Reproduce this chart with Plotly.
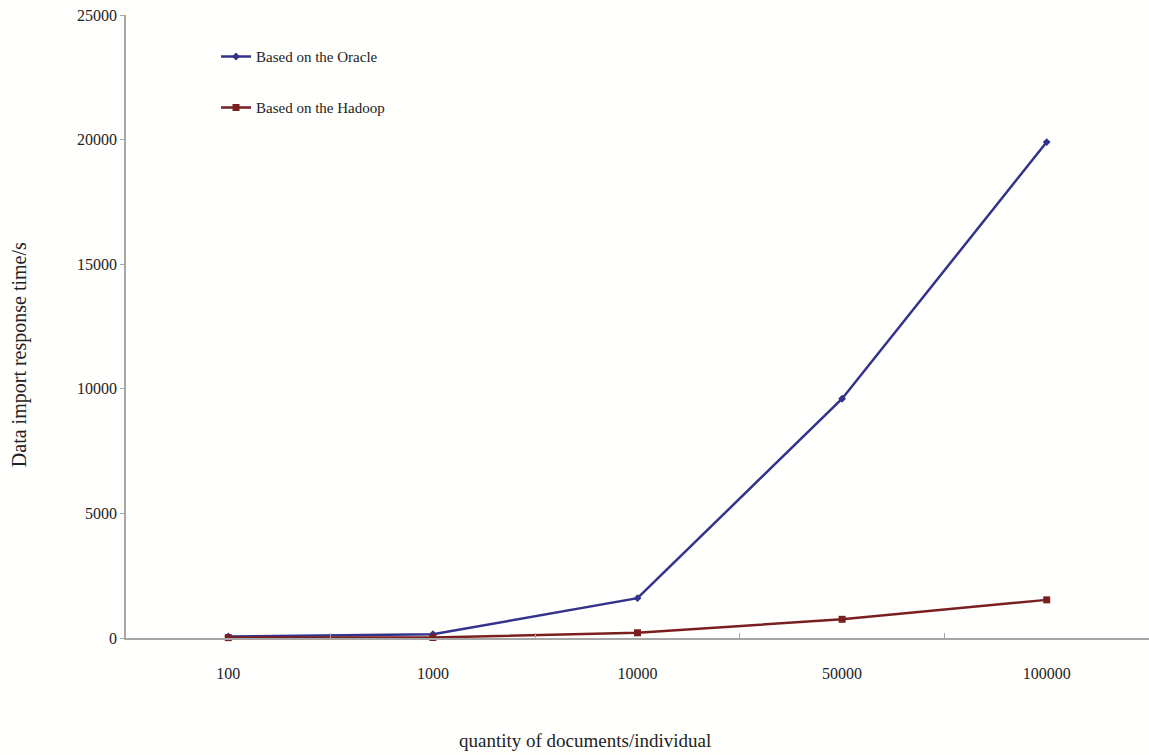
import plotly.graph_objects as go

categories = ["100", "1000", "10000", "50000", "100000"]
oracle = [60, 150, 1600, 9600, 19900]
hadoop = [15, 20, 210, 750, 1530]
y_ticks = [0, 5000, 10000, 15000, 20000, 25000]
y_tick_labels = ["0", "5000", "10000", "15000", "20000", "25000"]

FONT = "Liberation Serif"
TXT = "#222222"
AX = "#A6A6A6"

fig = go.Figure()
fig.add_trace(go.Scatter(
    x=categories, y=oracle, name="Based on the Oracle", mode="lines+markers",
    line=dict(color="#33338C", width=2.5),
    marker=dict(symbol="diamond", size=6, color="#33338C"),
    cliponaxis=False, legend="legend", showlegend=True,
))
fig.add_trace(go.Scatter(
    x=categories, y=hadoop, name="Based on the Hadoop", mode="lines+markers",
    line=dict(color="#7A1F1F", width=2.5),
    marker=dict(symbol="square", size=7, color="#7A1F1F"),
    cliponaxis=False, legend="legend2", showlegend=True,
))

fig.update_layout(
    width=1149, height=755,
    margin=dict(l=126, r=0, t=15, b=117),
    paper_bgcolor="#FFFFFD", plot_bgcolor="#FFFFFD",
    font=dict(family=FONT, color=TXT, size=16),
    showlegend=True,
    legend=dict(visible=True, x=0.088, y=0.933, xanchor="left", yanchor="middle",
                bgcolor="rgba(0,0,0,0)", font=dict(family=FONT, size=15, color=TXT),
                itemwidth=30),
    legend2=dict(visible=True, x=0.088, y=0.851, xanchor="left", yanchor="middle",
                 bgcolor="rgba(0,0,0,0)", font=dict(family=FONT, size=15, color=TXT),
                 itemwidth=30),
    xaxis=dict(
        type="category", range=[-0.5, 4.5], showline=True, linecolor=AX, linewidth=2,
        ticks="inside", tickson="boundaries", ticklen=5, tickcolor=AX, tickwidth=1,
        showgrid=False, zeroline=False, ticklabelstandoff=20,
        tickfont=dict(family=FONT, size=16, color=TXT),
    ),
    yaxis=dict(
        range=[0, 25000], tickvals=y_ticks, ticktext=y_tick_labels,
        showline=True, linecolor=AX, linewidth=1.5,
        ticks="outside", ticklen=4, tickcolor=AX, tickwidth=1,
        showgrid=False, zeroline=False,
        tickfont=dict(family=FONT, size=16, color=TXT),
    ),
    annotations=[
        dict(text="Data import response time/s", textangle=-90, xref="paper", yref="paper",
             x=-0.104, y=0.455, xanchor="center", yanchor="middle", showarrow=False,
             font=dict(family=FONT, size=20, color=TXT)),
        dict(text="quantity of documents/individual", xref="paper", yref="paper",
             x=0.449, y=-0.164, xanchor="center", yanchor="middle", showarrow=False,
             font=dict(family=FONT, size=19, color=TXT)),
    ],
)

fig.write_html("out.html")
